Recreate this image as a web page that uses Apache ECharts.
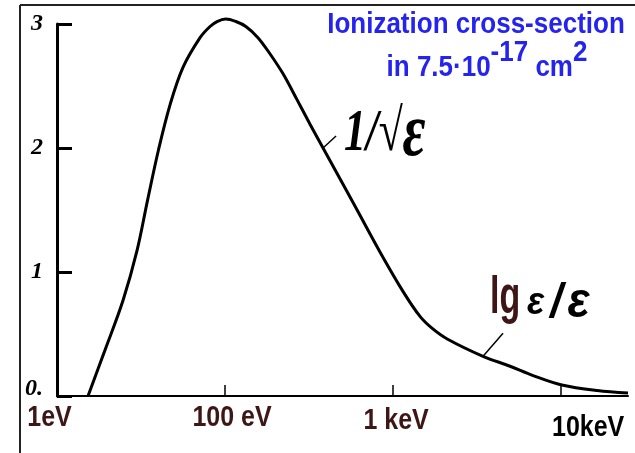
<!DOCTYPE html>
<html>
<head>
<meta charset="utf-8">
<script src="https://cdn.jsdelivr.net/npm/echarts@6/dist/echarts.min.js"></script>
<style>
  html, body { margin: 0; padding: 0; background: #fff; }
  #chart { width: 635px; height: 453px; }
</style>
</head>
<body>
<div id="chart"></div>
<script>
// Electron-impact ionization cross-section versus electron energy (log energy axis)
const energyEv = [15.3, 19.3, 24.7, 29.9, 34.6, 40.1, 47.1, 56.2, 71, 81.4, 89.6, 101, 116, 133, 157, 185, 221, 268, 321, 383, 484, 611, 837, 1150, 1450, 1710, 2100, 3430, 4970, 6810, 10100, 16400, 25000];
const crossSection = [0, 0.37, 0.77, 1.17, 1.58, 1.98, 2.35, 2.65, 2.89, 2.98, 3.02, 3.04, 3.02, 2.98, 2.89, 2.76, 2.6, 2.39, 2.19, 2.0, 1.75, 1.5, 1.16, 0.84, 0.64, 0.545, 0.46, 0.32, 0.24, 0.165, 0.089, 0.044, 0.024];

const xTickValues = [10, 100, 1000, 10000];
const xTickLabels = ['1eV', '100 eV', '1 keV', '10keV'];
const yTickLabels = ['0.', '1', '2', '3'];

const titleLine1 = 'Ionization cross-section';
const titleLine2 = ['in 7.5·10', '-17', ' cm', '2'];
const slopeHighLabel = ['1/√', 'ε'];
const slopeLowLabel = ['lg', 'ε', '/', 'ε'];

const sans = '"Liberation Sans", Arial, sans-serif';
const maroon = '#3e1616';
const blue = '#2424ee';

// per-label placement of the energy tick captions (offset from tick, colour)
const xLabelStyle = [
  { dx: -7.5, dy: 22, color: maroon },
  { dx: 7, dy: 22, color: maroon },
  { dx: 3, dy: 25, color: maroon },
  { dx: 27, dy: 32, color: '#000' }
];

const chart = echarts.init(document.getElementById('chart'), null, { renderer: 'canvas' });

const option = {
  animation: false,
  backgroundColor: '#fff',
  grid: { left: 57, right: 7, top: 24, bottom: 57 },
  xAxis: {
    type: 'log',
    logBase: 10,
    min: 10,
    max: 25000,
    axisLine: { show: true, lineStyle: { color: '#000', width: 2 } },
    axisTick: { show: true, inside: true, length: 11, customValues: xTickValues, lineStyle: { color: '#000', width: 1.5 } },
    splitLine: { show: false },
    minorTick: { show: false },
    axisLabel: { show: false }
  },
  yAxis: {
    type: 'value',
    min: 0,
    max: 3,
    interval: 1,
    axisLine: { show: true, lineStyle: { color: '#000', width: 3 } },
    axisTick: { show: true, inside: true, length: 15, lineStyle: { color: '#000', width: 3 } },
    splitLine: { show: false },
    axisLabel: {
      margin: 14,
      color: '#000',
      fontFamily: '"Liberation Serif", serif',
      fontStyle: 'italic',
      fontWeight: 'bold',
      fontSize: 24,
      formatter: function (v) {
        const t = yTickLabels[Math.round(v)];
        return Math.round(v) === 0 ? '{z|' + t + '}' : t;
      },
      rich: {
        z: { fontFamily: '"Liberation Serif", serif', fontStyle: 'italic', fontWeight: 'bold', fontSize: 24, color: '#000', padding: [0, 0, 14, 0] }
      }
    }
  },
  series: [{
    type: 'line',
    data: energyEv.map((e, i) => [e, crossSection[i]]),
    smooth: 0.35,
    clip: false,
    symbol: 'none',
    lineStyle: { color: '#000', width: 3 }
  }]
};

chart.setOption(option);

const toPx = (pt) => chart.convertToPixel({ gridIndex: 0 }, pt);

// energy tick captions, placed from the axis scale
const xCaptions = xTickValues.map((v, i) => {
  const p = toPx([v, 0]);
  const s = xLabelStyle[i];
  return {
    type: 'text', x: p[0] + s.dx, y: p[1] + s.dy, scaleY: 1.2,
    style: { text: xTickLabels[i], fill: s.color, fontFamily: sans, fontWeight: 'bold', fontSize: 25, align: 'center', verticalAlign: 'middle' }
  };
});

// annotation anchors sit on the curve where the leaders touch it
const pHigh = toPx([energyEv[19], crossSection[19]]);
const pLow = toPx([energyEv[27], crossSection[27]]);

chart.setOption({
  graphic: [
    // page frame
    { type: 'line', shape: { x1: 20, y1: 5, x2: 635, y2: 5 }, style: { stroke: '#222', lineWidth: 2 } },
    { type: 'line', shape: { x1: 20, y1: 5, x2: 20, y2: 453 }, style: { stroke: '#222', lineWidth: 2 } },
    // title
    {
      type: 'text', x: 476, y: 25, scaleY: 1.12,
      style: { text: titleLine1, fill: blue, fontFamily: sans, fontWeight: 'bold', fontSize: 26, align: 'center', verticalAlign: 'middle' }
    },
    {
      type: 'text', x: 487, y: 83, scaleY: 1.12,
      style: {
        text: '{b|' + titleLine2[0] + '}{s|' + titleLine2[1] + '}{b|' + titleLine2[2] + '}{s|' + titleLine2[3] + '}',
        fill: blue, align: 'center', verticalAlign: 'bottom',
        fontFamily: sans, fontWeight: 'bold', fontSize: 26,
        rich: {
          b: { fill: blue, fontFamily: sans, fontWeight: 'bold', fontSize: 26, verticalAlign: 'bottom' },
          s: { fill: blue, fontFamily: sans, fontWeight: 'bold', fontSize: 26, verticalAlign: 'bottom', padding: [0, 0, 14, 0] }
        }
      }
    },
    // 1/sqrt(e) annotation
    { type: 'line', shape: { x1: pHigh[0], y1: pHigh[1], x2: pHigh[0] + 13, y2: pHigh[1] - 12 }, style: { stroke: '#000', lineWidth: 1.5 } },
    {
      type: 'text', x: pHigh[0] + 21, y: pHigh[1] - 13, scaleY: 1.35,
      style: {
        text: '{a|' + slopeHighLabel[0] + '}{e|' + slopeHighLabel[1] + '}',
        fill: '#000', align: 'left', verticalAlign: 'middle',
        rich: {
          a: { fill: '#000', fontFamily: '"Liberation Serif", serif', fontStyle: 'italic', fontWeight: 'bold', fontSize: 44 },
          e: { fill: '#000', fontFamily: '"Liberation Serif", serif', fontStyle: 'italic', fontWeight: 'bold', fontSize: 56 }
        }
      }
    },
    // lg(e)/e annotation
    { type: 'line', shape: { x1: pLow[0], y1: pLow[1], x2: pLow[0] + 20, y2: pLow[1] - 23 }, style: { stroke: '#000', lineWidth: 1.5 } },
    {
      type: 'text', x: pLow[0] + 7, y: pLow[1] - 57, scaleY: 1.5,
      style: { text: slopeLowLabel[0], fill: maroon, fontFamily: sans, fontWeight: 'bold', fontSize: 34, align: 'left', verticalAlign: 'middle' }
    },
    {
      type: 'text', x: pLow[0] + 44, y: pLow[1] - 53, scaleY: 1.1,
      style: {
        text: '{e|' + slopeLowLabel[1] + '}{s|' + slopeLowLabel[2] + '}{f|' + slopeLowLabel[3] + '}',
        fill: '#000', align: 'left', verticalAlign: 'middle',
        rich: {
          e: { fill: '#000', fontFamily: sans, fontStyle: 'italic', fontWeight: 'bold', fontSize: 36 },
          s: { fill: '#000', fontFamily: sans, fontStyle: 'italic', fontWeight: 'bold', fontSize: 44, padding: [0, 5, 0, 6] },
          f: { fill: '#000', fontFamily: sans, fontStyle: 'italic', fontWeight: 'bold', fontSize: 46 }
        }
      }
    }
  ].concat(xCaptions)
});
</script>
</body>
</html>
